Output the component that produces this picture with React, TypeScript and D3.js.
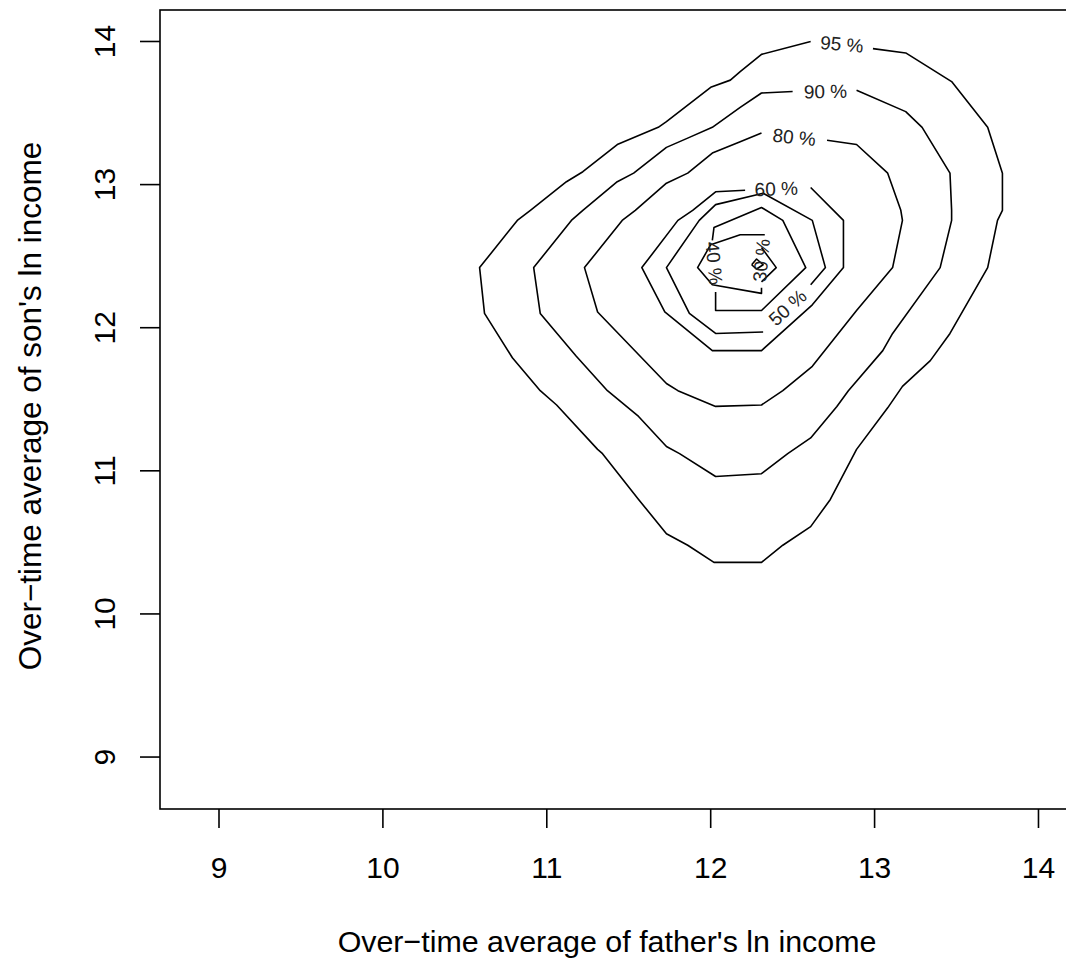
import React from "react";
import * as d3 from "d3";

// Axis ticks
const xTicks = [9, 10, 11, 12, 13, 14];
const yTicks = [9, 10, 11, 12, 13, 14];
const xDomain = [8.64, 14.174];
const yDomain = [8.637, 14.22];

// Contour lines (data units: father's ln income, son's ln income); each level may have several pieces
const c95: [number, number][] = [
  [12.99, 13.95], [13.19, 13.92], [13.47, 13.72], [13.69, 13.4], [13.78, 13.08], [13.78, 12.82],
  [13.75, 12.75], [13.69, 12.42], [13.46, 11.96], [13.34, 11.77], [13.17, 11.59], [13.08, 11.44],
  [12.89, 11.15], [12.73, 10.8], [12.61, 10.61], [12.44, 10.48], [12.31, 10.36], [12.02, 10.36],
  [11.86, 10.48], [11.73, 10.56], [11.56, 10.8], [11.34, 11.12], [11.31, 11.15], [11.06, 11.46],
  [10.96, 11.56], [10.79, 11.79], [10.62, 12.1], [10.59, 12.42], [10.82, 12.75], [10.9, 12.82],
  [11.12, 13.02], [11.22, 13.09], [11.43, 13.28], [11.68, 13.4], [11.73, 13.44], [12.0, 13.68],
  [12.12, 13.73], [12.18, 13.79], [12.31, 13.91], [12.61, 14.0],
];
const c90: [number, number][] = [
  [12.89, 13.66], [13.19, 13.51], [13.29, 13.4], [13.46, 13.08], [13.47, 12.82], [13.47, 12.75],
  [13.4, 12.42], [13.11, 11.96], [13.05, 11.84], [12.84, 11.56], [12.77, 11.45], [12.61, 11.23],
  [12.47, 11.12], [12.31, 10.98], [12.03, 10.96], [11.81, 11.12], [11.73, 11.17], [11.56, 11.38],
  [11.37, 11.56], [11.18, 11.8], [10.96, 12.1], [10.92, 12.42], [11.15, 12.75], [11.22, 12.82],
  [11.43, 13.02], [11.53, 13.08], [11.73, 13.26], [11.87, 13.33], [12.01, 13.4], [12.18, 13.54],
  [12.31, 13.64], [12.5, 13.65],
];
const c80: [number, number][] = [
  [12.71, 13.31], [12.89, 13.28], [13.08, 13.08], [13.16, 12.82], [13.17, 12.75], [13.11, 12.42],
  [12.89, 12.12], [12.62, 11.73], [12.44, 11.56], [12.31, 11.46], [12.03, 11.45], [11.8, 11.56],
  [11.73, 11.61], [11.31, 12.11], [11.23, 12.42], [11.46, 12.75], [11.54, 12.82], [11.73, 13.01],
  [11.86, 13.08], [12.01, 13.22], [12.18, 13.3], [12.31, 13.36],
];
const c60: [number, number][] = [
  [12.61, 12.98], [12.81, 12.75], [12.81, 12.42], [12.62, 12.16], [12.31, 11.84], [12.01, 11.84],
  [11.72, 12.11], [11.58, 12.42], [11.8, 12.75], [11.89, 12.82], [12.03, 12.95], [12.21, 12.96],
];
const c50: [number, number][] = [
  [12.61, 12.3], [12.7, 12.42], [12.62, 12.75], [12.32, 12.94], [12.03, 12.86], [11.93, 12.75],
  [11.73, 12.42], [11.87, 12.1], [12.03, 11.96], [12.32, 11.97],
];
const c40: [number, number][] = [
  [12.01, 12.61], [12.02, 12.7], [12.31, 12.84], [12.44, 12.75], [12.58, 12.42], [12.31, 12.12],
  [12.03, 12.12], [12.03, 12.25],
];
const c30a: [number, number][] = [
  [12.33, 12.65], [12.18, 12.65], [12.0, 12.58], [11.92, 12.42], [12.01, 12.3], [12.31, 12.24], [12.31, 12.28],
];
const c30b: [number, number][] = [[12.31, 12.56], [12.4, 12.42], [12.31, 12.32]];
const c20: [number, number][] = [[12.25, 12.44], [12.28, 12.48], [12.32, 12.44], [12.28, 12.41], [12.25, 12.44]];

const contourPieces = [c95, c90, c80, c60, c50, c40, c30a, c30b, c20];

// Contour labels: text, x, y (data units), angle (deg)
const labelTexts = ["95 %", "90 %", "80 %", "60 %", "50 %", "40 %", "30 %"];
const labelX = [12.8, 12.7, 12.51, 12.4, 12.47, 12.02, 12.31];
const labelY = [13.98, 13.65, 13.33, 12.97, 12.14, 12.45, 12.47];
const labelAngle = [5, -1, 6, -2, -42, 85, -85];

const xTitle = "Over\u2212time average of father's ln income";
const yTitle = "Over\u2212time average of son's ln income";

const W = 1066;
const H = 965;
const plotL = 160;
const plotR = 1067;
const plotT = 10;
const plotB = 809;
const FONT = "'Liberation Sans', Arial, Helvetica, sans-serif";

export default function App() {
  const x = d3.scaleLinear().domain(xDomain).range([plotL, plotR]);
  const y = d3.scaleLinear().domain(yDomain).range([plotB, plotT]);
  const line = d3
    .line<[number, number]>()
    .x((d) => x(d[0]))
    .y((d) => y(d[1]));

  return (
    <svg
      width={W}
      height={H}
      style={{ position: "absolute", left: 0, top: 0, background: "#fff" }}
      fontFamily={FONT}
    >
      <rect x={0} y={0} width={W} height={H} fill="#fff" />
      {contourPieces.map((p, i) => (
        <path key={i} d={line(p) || ""} fill="none" stroke="#000" strokeWidth={1.6} strokeLinejoin="round" />
      ))}
      {labelTexts.map((t, i) => (
        <text
          key={t}
          x={0}
          y={0}
          transform={`translate(${x(labelX[i])},${y(labelY[i])}) rotate(${labelAngle[i]})`}
          textAnchor="middle"
          dominantBaseline="central"
          fontSize={19}
          fill="#222"
        >
          {t}
        </text>
      ))}
      {/* frame */}
      <rect x={plotL} y={plotT} width={plotR - plotL} height={plotB - plotT} fill="none" stroke="#000" strokeWidth={1.6} />
      {/* x axis */}
      {xTicks.map((t) => (
        <g key={"x" + t}>
          <line x1={x(t)} x2={x(t)} y1={plotB} y2={plotB + 19} stroke="#000" strokeWidth={1.6} />
          <text x={x(t)} y={878} textAnchor="middle" fontSize={30} fill="#000">
            {t}
          </text>
        </g>
      ))}
      {/* y axis */}
      {yTicks.map((t) => (
        <g key={"y" + t}>
          <line x1={plotL - 20} x2={plotL} y1={y(t)} y2={y(t)} stroke="#000" strokeWidth={1.6} />
          <text
            x={0}
            y={0}
            transform={`translate(115,${y(t)}) rotate(-90)`}
            textAnchor="middle"
            fontSize={30}
            fill="#000"
          >
            {t}
          </text>
        </g>
      ))}
      <text x={607} y={952} textAnchor="middle" fontSize={30.4} fill="#000">
        {xTitle}
      </text>
      <text x={0} y={0} transform={`translate(41,406) rotate(-90)`} textAnchor="middle" fontSize={31.5} fill="#000">
        {yTitle}
      </text>
    </svg>
  );
}
